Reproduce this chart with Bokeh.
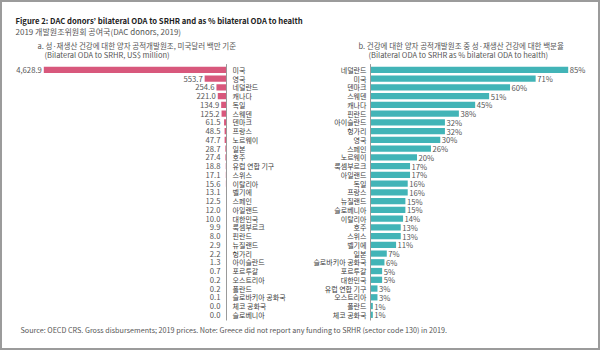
from bokeh.plotting import figure
from bokeh.models import Range1d, ColumnDataSource, Label
from bokeh.core.properties import value
from bokeh.embed import file_html
from bokeh.resources import INLINE

# ---- data ----
left_countries = ["미국", "영국", "네덜란드", "캐나다", "독일", "스웨덴", "덴마크", "프랑스", "노르웨이",
                  "일본", "호주", "유럽 연합 기구", "스위스", "이탈리아", "벨기에", "스페인", "아일랜드",
                  "대한민국", "룩셈부르크", "핀란드", "뉴질랜드", "헝가리", "아이슬란드", "포르투갈",
                  "오스트리아", "폴란드", "슬로바키아 공화국", "체코 공화국", "슬로베니아"]
left_values = [4628.9, 553.7, 254.6, 221.0, 134.9, 125.2, 61.5, 48.5, 47.7, 28.7, 27.4, 18.8, 17.1,
               15.6, 13.1, 12.5, 12.0, 10.0, 9.9, 8.0, 2.9, 2.2, 1.3, 0.7, 0.2, 0.2, 0.1, 0.0, 0.0]

right_countries = ["네덜란드", "미국", "덴마크", "스웨덴", "캐나다", "핀란드", "아이슬란드", "헝가리",
                   "영국", "스페인", "노르웨이", "룩셈부르크", "아일랜드", "독일", "프랑스", "뉴질랜드",
                   "슬로베니아", "이탈리아", "호주", "스위스", "벨기에", "일본", "슬로바키아 공화국",
                   "포르투갈", "대한민국", "유럽 연합 기구", "오스트리아", "폴란드", "체코 공화국"]
right_values = [85, 71, 60, 51, 45, 38, 32, 32, 30, 26, 20, 17, 17, 16, 16, 15, 15, 14, 13, 13, 11,
                7, 6, 5, 5, 3, 3, 1, 1]

title = "Figure 2: DAC donors’ bilateral ODA to SRHR and as % bilateral ODA to health"
subtitle = "2019 개발원조위원회 공여국(DAC donors, 2019)"
left_title = ["a. 성·재생산 건강에 대한 양자 공적개발원조, 미국달러 백만 기준",
              "(Bilateral ODA to SRHR, US$ million)"]
right_title = ["b. 건강에 대한 양자 공적개발원조 중 성·재생산 건강에 대한 백분율",
               "(Bilateral ODA to SRHR as % bilateral ODA to health)"]
source = ("Source: OECD CRS. Gross disbursements; 2019 prices. Note: Greece did not report any "
          "funding to SRHR (sector code 130) in 2019.")

# ---- styles ----
PINK = "#d8587c"
TEAL = "#42b4b7"
TXT = "#3c3c3c"
GRAY = "#555555"
KR = value("Noto Sans CJK KR")
FS = "7px"
VFS = "7.7px"

W, H = 600, 350
LK = 0.03947          # px per US$ million
L0 = 226.0            # px of left zero
RK = 2.326            # px per percent
R0 = 370.0            # px of right zero
ROW0, ROWH = 69.3, 8.75

p = figure(width=W, height=H, output_backend="svg", toolbar_location=None,
           x_range=Range1d(L0 / LK, -(W - L0) / LK),
           y_range=Range1d((H - ROW0) / ROWH, -ROW0 / ROWH),
           min_border=0)
p.extra_x_ranges = {"pct": Range1d(-R0 / RK, (W - R0) / RK)}
p.axis.visible = False
p.grid.visible = False
p.outline_line_color = "#9b9b9b"
p.outline_line_width = 3
p.background_fill_color = "white"

n = len(left_values)
rows = list(range(n))

# left chart
lsrc = ColumnDataSource(dict(
    y=rows, v=left_values, zero=[0] * n, cat=left_countries,
    lab=[f"{v:,.1f}" for v in left_values],
    lx=[max(v, 4.0 / LK) for v in left_values]))
p.hbar(y="y", left="zero", right="v", height=0.72, source=lsrc,
       fill_color=PINK, line_color=None)
p.segment(x0=0, x1=0, y0=-0.65, y1=n - 0.35, line_color="#9a9a9a", line_width=1)
p.text(x="lx", y="y", text="lab", source=lsrc, x_offset=-2, text_align="right",
       text_baseline="middle", text_font=KR, text_font_size=VFS, text_color=GRAY)
p.text(x="zero", y="y", text="cat", source=lsrc, x_offset=6, text_align="left",
       text_baseline="middle", text_font=KR, text_font_size=FS, text_color=TXT)

# right chart
m = len(right_values)
rsrc = ColumnDataSource(dict(
    y=list(range(m)), v=right_values, zero=[0] * m, cat=right_countries,
    lab=[f"{v}%" for v in right_values]))
p.hbar(y="y", left="zero", right="v", height=0.72, source=rsrc,
       fill_color=TEAL, line_color=None, x_range_name="pct")
p.segment(x0=0, x1=0, y0=-0.65, y1=m - 0.35, line_color="#9a9a9a", line_width=1,
          x_range_name="pct")
p.text(x="v", y="y", text="lab", source=rsrc, x_offset=1.5, text_align="left",
       text_baseline="middle", text_font=KR, text_font_size=VFS, text_color=GRAY,
       x_range_name="pct")
p.text(x="zero", y="y", text="cat", source=rsrc, x_offset=-4, text_align="right",
       text_baseline="middle", text_font=KR, text_font_size=FS, text_color=TXT,
       x_range_name="pct")

def lab(txt, x, y, size="7px", style="normal", color=TXT, align="left"):
    p.add_layout(Label(x=x, y=H - y, x_units="screen", y_units="screen", text=txt,
                       text_font="Noto Sans CJK KR", text_font_size=size,
                       text_font_style=style, text_color=color, text_align=align,
                       text_baseline="middle"))

lab(title, 15, 20, size="7.7px", style="bold", color="#222222")
lab(subtitle, 15, 31, size="8px", color=GRAY)
lab(left_title[0], 37, 44.5, size="7.5px", color=GRAY)
lab(left_title[1], 44, 54, size="7.5px", color=GRAY)
lab(right_title[0], 358, 44.5, size="7.5px", color=GRAY)
lab(right_title[1], 368, 54, size="7.5px", color=GRAY)
lab(source, 20, 329, size="7.2px", color=GRAY)

open("out.html", "w").write(file_html(p, INLINE))
